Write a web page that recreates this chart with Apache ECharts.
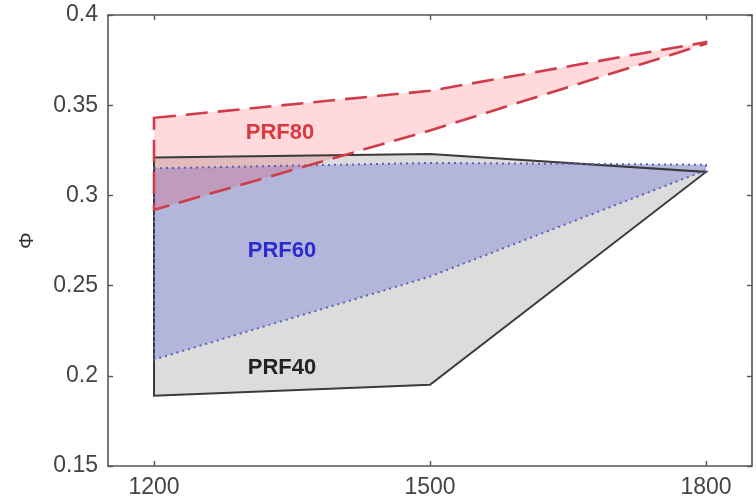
<!DOCTYPE html>
<html>
<head>
<meta charset="utf-8">
<script src="https://cdn.jsdelivr.net/npm/echarts@6/dist/echarts.min.js"></script>
<style>
  html, body { margin: 0; padding: 0; background: #fff; }
  #chart { width: 756px; height: 499px; }
</style>
</head>
<body>
<div id="chart"></div>
<script>
// Operating-region bands: x knots and the upper / lower bound of Φ for each PRF
const xKnots = [1200, 1500, 1800];
const xTicks = [1200, 1500, 1800];

const prf80Upper = [0.343, 0.358, 0.385];
const prf80Lower = [0.292, 0.336, 0.384];

const prf60Upper = [0.315, 0.318, 0.317];
const prf60Lower = [0.209, 0.255, 0.314];

const prf40Upper = [0.321, 0.323, 0.313];
const prf40Lower = [0.189, 0.195, 0.313];

const bandNames = ['PRF40', 'PRF60', 'PRF80'];

// closed outline: along the upper bound, then back along the lower bound
function outline(xs, upper, lower) {
  const pts = xs.map((x, i) => [x, upper[i]]);
  for (let i = xs.length - 1; i >= 0; i--) pts.push([xs[i], lower[i]]);
  return pts;
}

function bandSeries(name, pts, fill, stroke, z) {
  return {
    type: 'custom',
    name: name,
    coordinateSystem: 'cartesian2d',
    data: pts,
    encode: { x: 0, y: 1 },
    silent: true,
    z: z,
    renderItem: function (params, api) {
      if (params.dataIndex !== 0) return null;
      const pix = pts.map(p => api.coord(p));
      const children = [];
      if (fill) {
        children.push({ type: 'polygon', shape: { points: pix }, style: { fill: fill, stroke: null } });
      }
      if (stroke) {
        children.push({
          type: 'polygon', shape: { points: pix },
          style: Object.assign({ fill: null }, stroke)
        });
      }
      return { type: 'group', children: children };
    }
  };
}

const p40 = outline(xKnots, prf40Upper, prf40Lower);
const p60 = outline(xKnots, prf60Upper, prf60Lower);
const p80 = outline(xKnots, prf80Upper, prf80Lower);

const axisColor = '#555';
const fontFam = '"Liberation Sans", Arial, sans-serif';
const labelFont = { fontFamily: fontFam, fontSize: 23, color: '#444' };
const bandFont = 'bold 22px ' + fontFam;

const chart = echarts.init(document.getElementById('chart'));
chart.setOption({
  animation: false,
  backgroundColor: '#fff',
  grid: { left: 108, right: 4, top: 15, bottom: 33 },
  xAxis: [
    {
      type: 'value', min: 1150, max: 1850, position: 'bottom',
      axisLine: { show: true, onZero: false, lineStyle: { color: axisColor, width: 1.6 } },
      axisTick: { show: true, inside: true, length: 5, customValues: xTicks, lineStyle: { color: axisColor, width: 1.4 } },
      axisLabel: Object.assign({ margin: 10, customValues: xTicks, formatter: v => String(v) }, labelFont),
      splitLine: { show: false }
    },
    {
      type: 'value', min: 1150, max: 1850, position: 'top',
      axisLine: { show: true, onZero: false, lineStyle: { color: axisColor, width: 1.6 } },
      axisTick: { show: true, inside: true, length: 5, customValues: xTicks, lineStyle: { color: axisColor, width: 1.4 } },
      axisLabel: { show: false },
      splitLine: { show: false }
    }
  ],
  yAxis: [
    {
      type: 'value', min: 0.15, max: 0.4, interval: 0.05, position: 'left',
      name: 'Φ', nameLocation: 'middle', nameRotate: 90, nameGap: 70,
      nameTextStyle: { fontFamily: fontFam, fontSize: 21, color: '#333' },
      axisLine: { show: true, onZero: false, lineStyle: { color: axisColor, width: 1.6 } },
      axisTick: { show: true, inside: true, length: 5, lineStyle: { color: axisColor, width: 1.4 } },
      axisLabel: Object.assign({ margin: 10 }, labelFont),
      splitLine: { show: false }
    },
    {
      type: 'value', min: 0.15, max: 0.4, interval: 0.05, position: 'right',
      axisLine: { show: true, onZero: false, lineStyle: { color: axisColor, width: 1.6 } },
      axisTick: { show: true, inside: true, length: 5, lineStyle: { color: axisColor, width: 1.4 } },
      axisLabel: { show: false },
      splitLine: { show: false }
    }
  ],
  series: [
    bandSeries(bandNames[0], p40, '#dcdcdc', null, 2),
    bandSeries(bandNames[1], p60, '#b3b5da', null, 3),
    bandSeries(bandNames[2], p80, 'rgba(255,20,40,0.16)', null, 4),
    bandSeries(bandNames[0] + ' edge', p40, null, { stroke: '#3a3a3a', lineWidth: 2 }, 5),
    bandSeries(bandNames[1] + ' edge', p60, null, { stroke: '#5a62b8', lineWidth: 2, lineDash: [2, 4] }, 6),
    bandSeries(bandNames[2] + ' edge', p80, null, { stroke: '#cf3c4a', lineWidth: 2.6, lineDash: [22, 10] }, 7)
  ],
  graphic: [
    { type: 'text', z: 100, x: 280, y: 133, style: { text: bandNames[2], fill: '#d83a3f', font: bandFont, align: 'center', verticalAlign: 'middle' } },
    { type: 'text', z: 100, x: 282, y: 251, style: { text: bandNames[1], fill: '#2b2bd0', font: bandFont, align: 'center', verticalAlign: 'middle' } },
    { type: 'text', z: 100, x: 282, y: 368, style: { text: bandNames[0], fill: '#222', font: bandFont, align: 'center', verticalAlign: 'middle' } }
  ]
});
</script>
</body>
</html>
